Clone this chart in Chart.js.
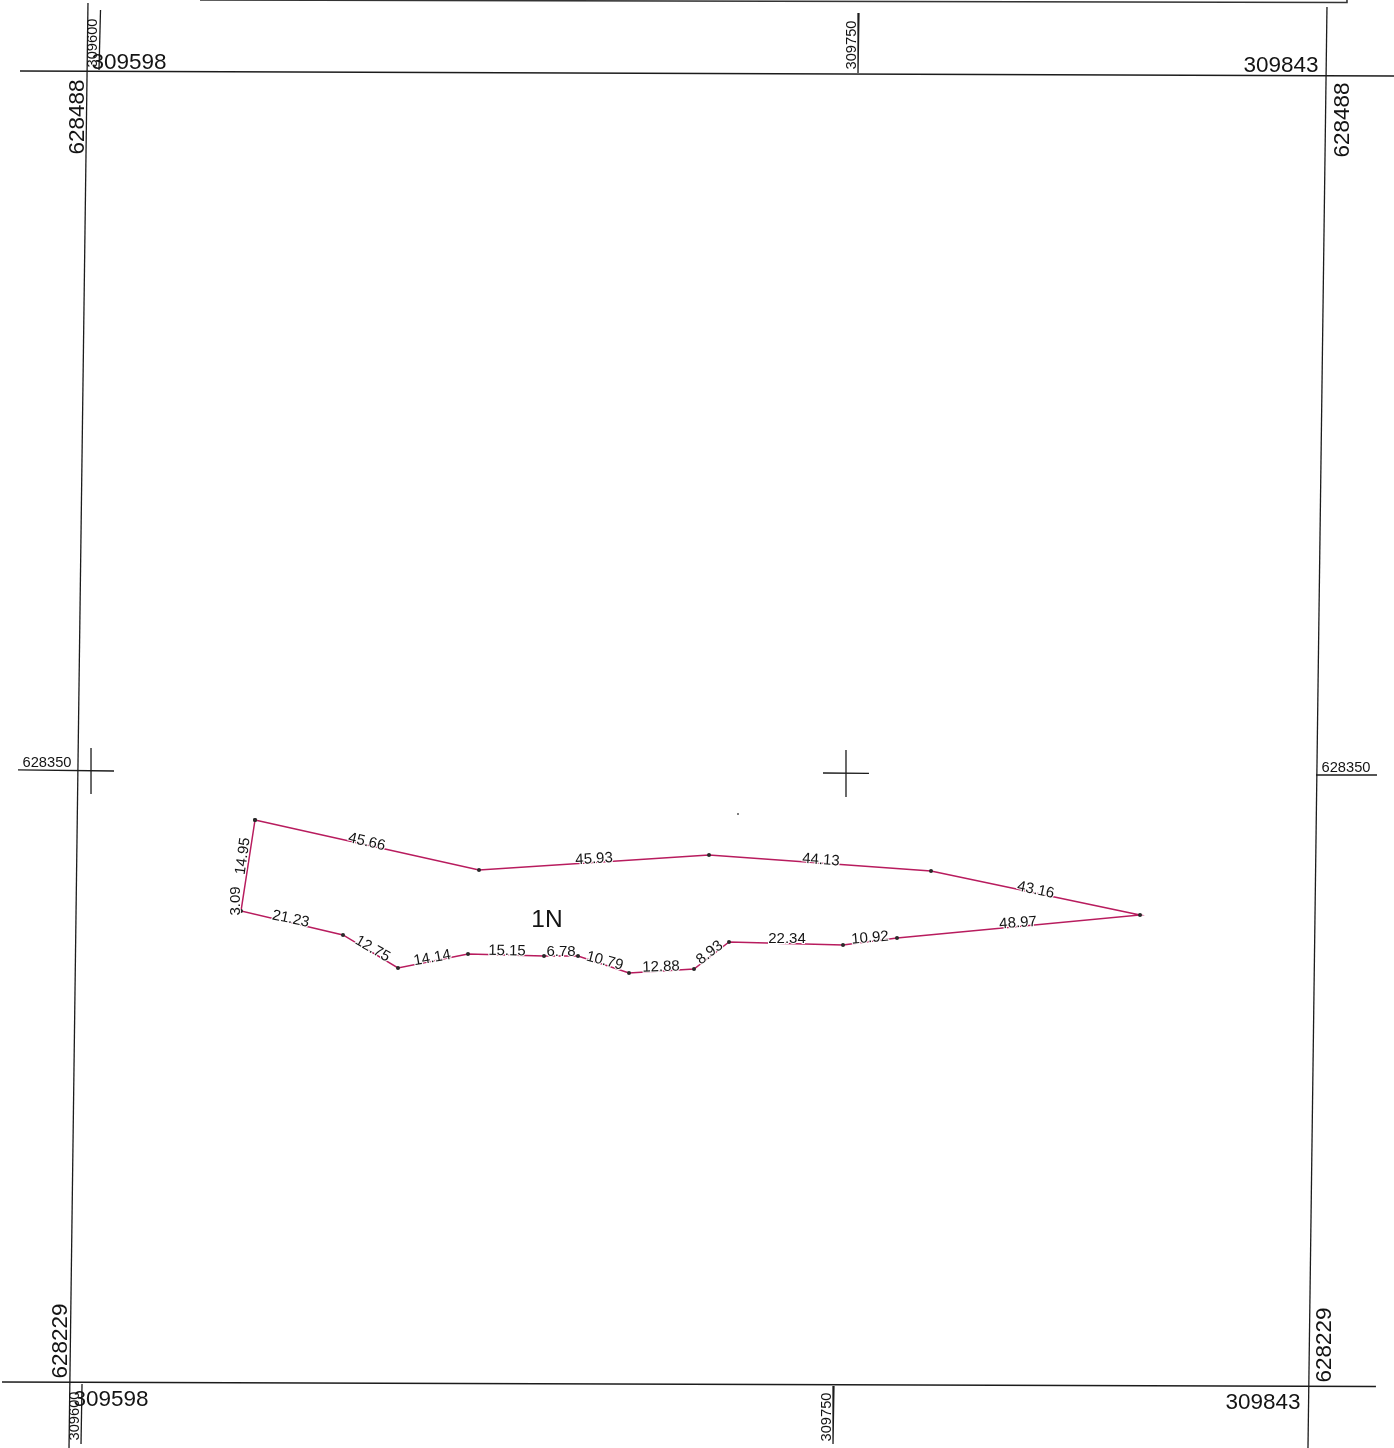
<!DOCTYPE html>
<html>
<head>
<meta charset="utf-8">
<title>1N</title>
<script src="https://cdn.jsdelivr.net/npm/chart.js@4"></script>
<style>
  html, body { margin: 0; padding: 0; background: #fff; }
  canvas { display: block; }
</style>
</head>
<body>
<canvas id="plan" width="1394" height="1448"></canvas>
<script>
// parcel corners, easting / northing
var parcelX = [309631.49, 309675.84, 309721.38, 309765.33, 309806.71, 309758.60, 309747.91, 309725.34,
               309718.41, 309705.54, 309695.44, 309688.71, 309673.66, 309659.80, 309648.91, 309628.72, 309631.49];
var parcelY = [628340.54, 628330.67, 628333.63, 628330.47, 628321.78, 628317.24, 628315.85, 628316.45,
               628311.11, 628310.32, 628313.68, 628313.68, 628314.08, 628311.31, 628317.83, 628322.57, 628340.54];

// side lengths and where they sit along the parcel
var sideLabels = ["45.66", "45.93", "44.13", "43.16", "48.97", "10.92", "22.34", "8.93", "12.88",
                  "10.79", "6.78", "15.15", "14.14", "12.75", "21.23", "3.09", "14.95"];
var sideX = [309653.66, 309698.61, 309743.55, 309786.12, 309782.55, 309753.25, 309736.82, 309721.38, 309711.87,
             309700.78, 309692.07, 309681.38, 309666.53, 309654.85, 309638.61, 309627.53, 309628.91];
var sideY = [628336.39, 628333.04, 628332.84, 628326.91, 628320.40, 628317.43, 628317.24, 628314.47, 628311.71,
             628312.89, 628314.67, 628314.87, 628313.48, 628315.26, 628321.19, 628324.54, 628333.43];

var parcelName = ["1N"];
var parcelNameX = [309689.30];
var parcelNameY = [628320.99];

// frame corner coordinates
var cornerLabels = ["309598", "309843", "628488", "628488", "628229", "628229", "309598", "309843"];
var cornerX = [309606.54, 309834.63, 309596.05, 309846.50, 309592.68, 309842.94, 309602.98, 309831.06];
var cornerY = [628490.45, 628489.86, 628479.39, 628478.80, 628237.64, 628236.85, 628226.38, 628225.79];

// grid ticks
var gridLabels = ["309600", "309750", "309600", "309750", "628350", "628350"];
var gridX = [309599.22, 309749.49, 309595.65, 309744.54, 309590.31, 309847.49];
var gridY = [628494.01, 628493.61, 628222.82, 628222.63, 628352.00, 628351.01];

// frame and tick lines, each one [x1, y1, x2, y2]
var frameLines = [
  [309584.96, 628488.48, 309857.00, 628487.49],
  [309581.40, 628229.54, 309853.43, 628228.65],
  [309598.42, 628501.91, 309594.66, 628216.50],
  [309843.73, 628501.12, 309839.97, 628216.50],
  [309600.90, 628500.52, 309600.60, 628488.67],
  [309751.07, 628499.93, 309750.88, 628488.08],
  [309597.24, 628229.15, 309597.04, 628217.30],
  [309746.12, 628228.75, 309745.93, 628217.30],
  [309584.56, 628350.42, 309603.57, 628350.22],
  [309599.02, 628354.76, 309599.02, 628345.68],
  [309743.95, 628349.82, 309753.05, 628349.73],
  [309748.50, 628354.37, 309748.50, 628345.08],
  [309841.55, 628349.43, 309853.63, 628349.43]
];

// bit of the sheet border at the top
var borderX = [309620.60, 309847.69, 309847.69];
var borderY = [628502.50, 628502.01, 628502.50];

// scan speck above the parcel
var speckX = [309727.12];
var speckY = [628341.73];

var sideAngles = [13, -3, 4, 12, -4, -5, 0, -38, -2, 15, 0, 1, -10, 30, 12, -90, -82];
var cornerAngles = [0, 0, -90, -90, -90, -90, 0, 0];
var gridAngles = [-90, -90, -90, -90, 0, 0];

function toPoints(xs, ys) {
  return xs.map(function (x, i) {
    return { x: x, y: ys[i] };
  });
}

var datasets = frameLines.map(function (l) {
  return {
    data: [{ x: l[0], y: l[1] }, { x: l[2], y: l[3] }],
    showLine: true,
    borderColor: "#1c1c1c",
    borderWidth: 1.3,
    pointRadius: 0
  };
});

datasets.push({
  data: toPoints(borderX, borderY),
  showLine: true,
  borderColor: "#333333",
  borderWidth: 1.6,
  pointRadius: 0
});

datasets.push({
  data: toPoints(parcelX, parcelY),
  showLine: true,
  borderColor: "#b81c5e",
  borderWidth: 1.5,
  pointRadius: 2,
  pointBackgroundColor: "#2a2a2a",
  pointBorderColor: "#2a2a2a",
  pointBorderWidth: 0
});

datasets.push({
  data: toPoints(speckX, speckY),
  pointRadius: 1,
  pointBackgroundColor: "#555555",
  pointBorderWidth: 0
});

// texts go in after the lines, the side lengths knock a small gap out of the line
var planText = {
  id: "planText",
  afterDatasetsDraw: function (chart) {
    var ctx = chart.ctx;
    var xs = chart.scales.x;
    var ys = chart.scales.y;

    function put(text, x, y, angle, size, halo) {
      var drop = size * 0.07; // middle baseline sits a bit high
      ctx.save();
      ctx.translate(xs.getPixelForValue(x), ys.getPixelForValue(y));
      ctx.rotate(angle * Math.PI / 180);
      ctx.font = size + 'px "Liberation Sans", Arial, sans-serif';
      ctx.textAlign = "center";
      ctx.textBaseline = "middle";
      if (halo) {
        ctx.strokeStyle = "#ffffff";
        ctx.lineWidth = 2;
        ctx.strokeText(text, 0, drop);
      }
      ctx.fillStyle = "#141414";
      ctx.fillText(text, 0, drop);
      ctx.restore();
    }

    sideLabels.forEach(function (t, i) {
      put(t, sideX[i], sideY[i], sideAngles[i], 15, true);
    });
    parcelName.forEach(function (t, i) {
      put(t, parcelNameX[i], parcelNameY[i], 0, 24.5, false);
    });
    cornerLabels.forEach(function (t, i) {
      put(t, cornerX[i], cornerY[i], cornerAngles[i], 22.5, false);
    });
    gridLabels.forEach(function (t, i) {
      put(t, gridX[i], gridY[i], gridAngles[i], 14.7, false);
    });
  }
};

var plan = new Chart(document.getElementById("plan").getContext("2d"), {
  type: "scatter",
  data: { datasets: datasets },
  plugins: [planText],
  options: {
    responsive: false,
    devicePixelRatio: 1,
    animation: false,
    layout: { padding: 0, autoPadding: false },
    plugins: { legend: { display: false }, tooltip: { enabled: false } },
    scales: {
      x: { type: "linear", display: false, min: 309581, max: 309857 },
      y: { type: "linear", display: false, min: 628216.5, max: 628502.5 }
    },
    elements: { line: { tension: 0 } }
  }
});
</script>
</body>
</html>
